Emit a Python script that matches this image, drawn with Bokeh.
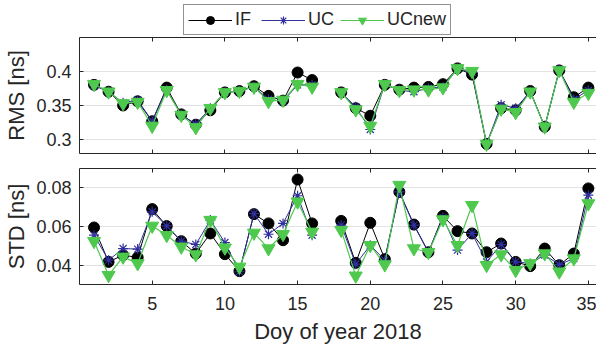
import math
from bokeh.plotting import figure
from bokeh.layouts import column
from bokeh.models import (ColumnDataSource, Range1d, LinearAxis, FixedTicker,
                          Legend, LegendItem)
from bokeh.embed import file_html
from bokeh.resources import INLINE

nan = float("nan")

days = list(range(1, 36))

rms_if = [0.380, 0.370, 0.350, 0.356, 0.327, 0.376, 0.337, 0.322, 0.343, 0.369, 0.371, 0.378,
          0.364, 0.357, 0.398, 0.387, nan, 0.369, 0.346, 0.335, 0.380, 0.373, 0.376, 0.377,
          0.381, 0.404, 0.395, 0.294, 0.346, 0.343, 0.371, 0.319, 0.401, 0.362, 0.376]
rms_uc = [0.379, 0.370, 0.354, 0.358, 0.327, 0.373, 0.336, 0.323, 0.346, 0.369, 0.371, 0.377,
          0.359, 0.356, 0.380, 0.380, nan, 0.369, 0.348, 0.315, 0.381, 0.372, 0.370, 0.375,
          0.377, 0.404, 0.398, 0.294, 0.351, 0.346, 0.370, 0.319, 0.402, 0.359, 0.372]
rms_ucnew = [0.381, 0.370, 0.353, 0.355, 0.320, 0.372, 0.336, 0.318, 0.346, 0.369, 0.371, 0.377,
             0.356, 0.358, 0.381, 0.377, nan, 0.369, 0.344, 0.320, 0.381, 0.372, 0.373, 0.373,
             0.376, 0.404, 0.400, 0.294, 0.345, 0.340, 0.370, 0.319, 0.401, 0.355, 0.368]

std_if = [0.0595, 0.0417, 0.0452, 0.0440, 0.0690, 0.0602, 0.0524, 0.0460, 0.0564, 0.0457, 0.0369,
          0.0664, 0.0616, 0.0529, 0.0843, 0.0616, nan, 0.0629, 0.0412, 0.0619, 0.0431, 0.0779,
          0.0610, 0.0467, 0.0655, 0.0576, 0.0564, 0.0467, 0.0512, 0.0417, 0.0395, 0.0486,
          0.0400, 0.0460, 0.0797]
std_uc = [0.0555, 0.0426, 0.0486, 0.0483, 0.0676, 0.0603, 0.0524, 0.0507, 0.0633, 0.0517, 0.0366,
          0.0667, 0.0560, 0.0616, 0.0759, 0.0555, nan, 0.0607, 0.0405, 0.0503, 0.0426, 0.0779,
          0.0607, 0.0467, 0.0647, 0.0478, 0.0564, 0.0417, 0.0507, 0.0417, 0.0409, 0.0452,
          0.0403, 0.0434, 0.0762]
std_ucnew = [0.0524, 0.0348, 0.0443, 0.0409, 0.0603, 0.0555, 0.0495, 0.0455, 0.0633, 0.0490, 0.0391,
             0.0567, 0.0486, 0.0560, 0.0728, 0.0572, nan, 0.0581, 0.0345, 0.0503, 0.0403, 0.0814,
             0.0486, 0.0467, 0.0636, 0.0503, 0.0710, 0.0400, 0.0455, 0.0374, 0.0409, 0.0460,
             0.0366, 0.0434, 0.0719]

series_names = ["IF", "UC", "UCnew"]
x_ticks = [5, 10, 15, 20, 25, 30, 35]
rms_ticks = [0.3, 0.35, 0.4]
std_ticks = [0.04, 0.06, 0.08]

FONT = "Liberation Sans"
AX = "#262626"
C_IF = "#000000"
C_UC = "#30309e"
C_NEW = "#4ec94e"

STYLES = [
    dict(marker="circle", size=11, fill_color=C_IF, line_color=C_IF, lw=1, color=C_IF),
    dict(marker="asterisk", size=10, fill_color=None, line_color=C_UC, lw=1, color=C_UC),
    dict(marker="inverted_triangle", size=13, fill_color=C_NEW, line_color=C_NEW, lw=1.2, color=C_NEW),
]


def style_axis(ax, ticks, show_labels, fs="18px"):
    ax.ticker = FixedTicker(ticks=ticks)
    ax.major_tick_in = 4
    ax.major_tick_out = 0
    ax.minor_tick_in = 0
    ax.minor_tick_out = 0
    ax.axis_line_color = AX
    ax.major_tick_line_color = AX
    ax.major_label_text_font = FONT
    ax.major_label_text_color = AX
    ax.major_label_text_font_size = fs
    ax.axis_label_text_font = FONT
    ax.axis_label_text_font_style = "normal"
    ax.axis_label_text_font_size = "22px"
    ax.axis_label_text_color = AX
    if not show_labels:
        ax.major_label_overrides = {t: "" for t in ticks}
        ax.major_label_standoff = 0


def add_series(p, xs, ys):
    out = []
    for yv, st in zip(ys, STYLES):
        src = ColumnDataSource(dict(x=xs, y=yv))
        l = p.line("x", "y", source=src, line_color=st["color"], line_width=st["lw"])
        s = p.scatter("x", "y", source=src, marker=st["marker"], size=st["size"],
                      fill_color=st["fill_color"], line_color=st["line_color"],
                      line_width=1.2 if st["marker"] == "asterisk" else 1)
        out.append((l, s))
    return out


def make_panel(height, top, bottom, yr, yticks, ylabel, yvals, show_x, xlabel=None):
    p = figure(width=596, height=height, output_backend="svg", toolbar_location=None,
               x_range=Range1d(0, 35.56), y_range=Range1d(*yr),
               x_axis_location=None, y_axis_location=None,
               min_border_left=79, min_border_right=0,
               min_border_top=top, min_border_bottom=bottom,
               background_fill_color="white", border_fill_color="white")
    p.outline_line_color = None
    p.xgrid.visible = False
    p.ygrid.ticker = FixedTicker(ticks=yticks)
    p.ygrid.grid_line_color = "#e3e3e3"
    p.ygrid.grid_line_width = 1

    left = LinearAxis(axis_label=ylabel)
    style_axis(left, yticks, True)
    left.major_label_standoff = 8
    left.axis_label_standoff = 4
    left.major_label_overrides = {t: ("%g" % t) for t in yticks}
    p.add_layout(left, "left")

    below = LinearAxis(axis_label=xlabel)
    style_axis(below, x_ticks, show_x)
    if show_x:
        below.major_label_standoff = 12
        below.axis_label_standoff = 6
    p.add_layout(below, "below")

    above = LinearAxis()
    style_axis(above, x_ticks, False)
    p.add_layout(above, "above")

    add_series(p, days, yvals)
    return p


# legend strip on top (series drawn out of its visible range; only the legend shows)
pl = figure(width=596, height=37, output_backend="svg", toolbar_location=None,
            x_range=Range1d(1000, 1001), y_range=Range1d(0, 1),
            x_axis_location=None, y_axis_location=None,
            min_border_left=0, min_border_right=0, min_border_top=0, min_border_bottom=0,
            background_fill_color="white", border_fill_color="white")
pl.outline_line_color = None
pl.grid.visible = False
dummy = add_series(pl, days, [rms_if, rms_uc, rms_ucnew])
items = [LegendItem(label=n, renderers=list(rs)) for n, rs in zip(series_names, dummy)]
legend = Legend(items=items, orientation="horizontal", location=(104, 2),
                label_text_font=FONT, label_text_font_size="18px", label_text_color=AX,
                glyph_width=44, glyph_height=20, label_standoff=3, spacing=6,
                padding=4, margin=0, border_line_color=AX, border_line_width=1,
                background_fill_color="white", background_fill_alpha=1.0)
pl.add_layout(legend, "center")

p1 = make_panel(123, 0, 7, (0.28, 0.449), rms_ticks, "RMS [ns]",
                [rms_if, rms_uc, rms_ucnew], False)
p2 = make_panel(189, 8, 65, (0.030, 0.090), std_ticks, "STD [ns]",
                [std_if, std_uc, std_ucnew], True, xlabel="Doy of year 2018")

layout = column(pl, p1, p2, spacing=0)
open("out.html", "w").write(file_html(layout, INLINE))
